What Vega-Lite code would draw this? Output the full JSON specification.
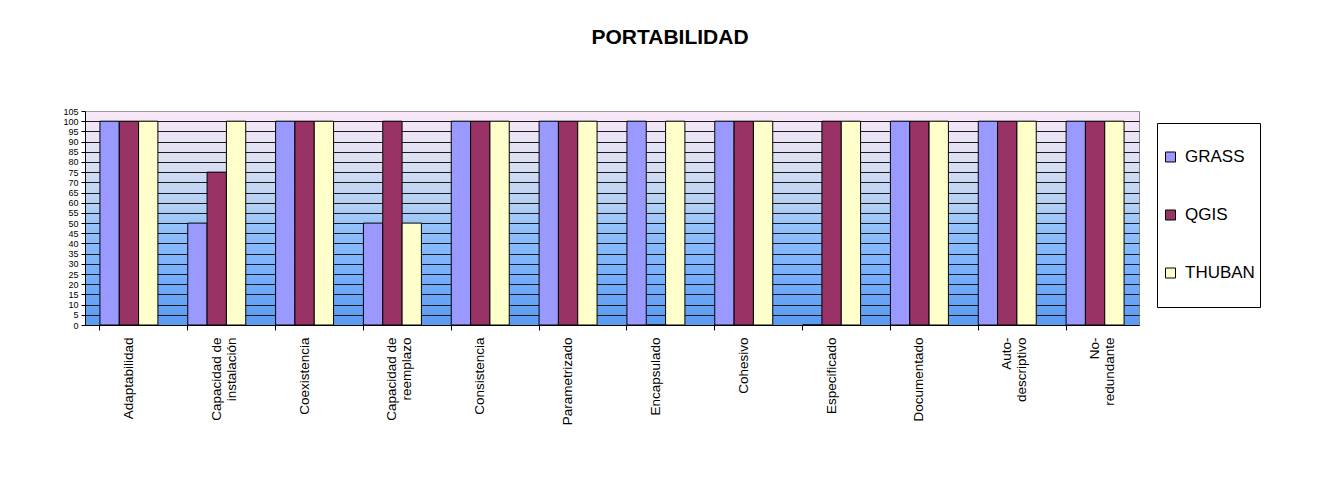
{
  "$schema": "https://vega.github.io/schema/vega-lite/v6.json",
  "width": 1054,
  "height": 214,
  "autosize": {"type": "none"},
  "padding": {"left": 85, "top": 111, "right": 200, "bottom": 159},
  "background": "white",
  "title": {
    "text": "PORTABILIDAD",
    "font": "Liberation Sans",
    "fontSize": 21,
    "fontWeight": "bold",
    "color": "#000000",
    "anchor": "middle",
    "frame": "group",
    "dx": 58,
    "offset": 59
  },
  "data": {
    "values": [
      {"cat": "Adaptabilidad", "series": "GRASS", "v": 100},
      {"cat": "Adaptabilidad", "series": "QGIS", "v": 100},
      {"cat": "Adaptabilidad", "series": "THUBAN", "v": 100},
      {"cat": "Capacidad de|instalación", "series": "GRASS", "v": 50},
      {"cat": "Capacidad de|instalación", "series": "QGIS", "v": 75},
      {"cat": "Capacidad de|instalación", "series": "THUBAN", "v": 100},
      {"cat": "Coexistencia", "series": "GRASS", "v": 100},
      {"cat": "Coexistencia", "series": "QGIS", "v": 100},
      {"cat": "Coexistencia", "series": "THUBAN", "v": 100},
      {"cat": "Capacidad de|reemplazo", "series": "GRASS", "v": 50},
      {"cat": "Capacidad de|reemplazo", "series": "QGIS", "v": 100},
      {"cat": "Capacidad de|reemplazo", "series": "THUBAN", "v": 50},
      {"cat": "Consistencia", "series": "GRASS", "v": 100},
      {"cat": "Consistencia", "series": "QGIS", "v": 100},
      {"cat": "Consistencia", "series": "THUBAN", "v": 100},
      {"cat": "Parametrizado", "series": "GRASS", "v": 100},
      {"cat": "Parametrizado", "series": "QGIS", "v": 100},
      {"cat": "Parametrizado", "series": "THUBAN", "v": 100},
      {"cat": "Encapsulado", "series": "GRASS", "v": 100},
      {"cat": "Encapsulado", "series": "QGIS", "v": 0},
      {"cat": "Encapsulado", "series": "THUBAN", "v": 100},
      {"cat": "Cohesivo", "series": "GRASS", "v": 100},
      {"cat": "Cohesivo", "series": "QGIS", "v": 100},
      {"cat": "Cohesivo", "series": "THUBAN", "v": 100},
      {"cat": "Especificado", "series": "GRASS", "v": 0},
      {"cat": "Especificado", "series": "QGIS", "v": 100},
      {"cat": "Especificado", "series": "THUBAN", "v": 100},
      {"cat": "Documentado", "series": "GRASS", "v": 100},
      {"cat": "Documentado", "series": "QGIS", "v": 100},
      {"cat": "Documentado", "series": "THUBAN", "v": 100},
      {"cat": "Auto-|descriptivo", "series": "GRASS", "v": 100},
      {"cat": "Auto-|descriptivo", "series": "QGIS", "v": 100},
      {"cat": "Auto-|descriptivo", "series": "THUBAN", "v": 100},
      {"cat": "No-|redundante", "series": "GRASS", "v": 100},
      {"cat": "No-|redundante", "series": "QGIS", "v": 100},
      {"cat": "No-|redundante", "series": "THUBAN", "v": 100}
    ]
  },
  "mark": {"type": "bar", "stroke": "#000000", "strokeWidth": 1},
  "encoding": {
    "x": {
      "field": "cat",
      "type": "nominal",
      "sort": null,
      "title": null,
      "scale": {"paddingInner": 0.34, "paddingOuter": 0.17},
      "axis": {
        "bandPosition": 0,
        "labelAngle": -90,
        "labelAlign": "right",
        "labelBaseline": "middle",
        "labelExpr": "split(datum.label, '|')",
        "labelFont": "Liberation Sans",
        "labelFontSize": 13.5,
        "labelLineHeight": 15,
        "labelColor": "#000000",
        "labelPadding": 7,
        "labelLimit": 0,
        "tickSize": 5,
        "tickColor": "#000000",
        "domainColor": "#000000",
        "grid": false
      }
    },
    "xOffset": {
      "field": "series",
      "type": "nominal",
      "sort": ["GRASS", "QGIS", "THUBAN"],
      "scale": {"paddingInner": 0, "paddingOuter": 0}
    },
    "y": {
      "field": "v",
      "type": "quantitative",
      "title": null,
      "scale": {"domain": [0, 105], "nice": false},
      "axis": {
        "values": [0, 5, 10, 15, 20, 25, 30, 35, 40, 45, 50, 55, 60, 65, 70, 75, 80, 85, 90, 95, 100, 105],
        "labelFont": "Liberation Sans",
        "labelFontSize": 9,
        "labelColor": "#000000",
        "labelPadding": 3,
        "tickSize": 4,
        "tickColor": "#000000",
        "domainColor": "#000000",
        "grid": true,
        "gridColor": {"condition": {"test": "datum.value == 105", "value": "#999999"}, "value": "#1a1a1a"},
        "gridOpacity": 1
      }
    },
    "color": {
      "field": "series",
      "type": "nominal",
      "scale": {"domain": ["GRASS", "QGIS", "THUBAN"], "range": ["#9999FF", "#993366", "#FFFFCC"]},
      "legend": {
        "title": null,
        "orient": "none",
        "legendX": 1072,
        "legendY": 12,
        "strokeColor": "#000000",
        "fillColor": "#FFFFFF",
        "padding": 5,
        "clipHeight": 58,
        "rowPadding": 0,
        "symbolType": "square",
        "symbolSize": 100,
        "symbolStrokeColor": "#000000",
        "symbolStrokeWidth": 1,
        "symbolOpacity": 1,
        "labelFont": "Liberation Sans",
        "labelFontSize": 17,
        "labelColor": "#000000",
        "labelOffset": 6
      }
    }
  },
  "config": {
    "view": {
      "stroke": "#888888",
      "fill": {
        "gradient": "linear",
        "x1": 0, "y1": 0, "x2": 0, "y2": 1,
        "stops": [
          {"offset": 0, "color": "#FAE8F8"},
          {"offset": 0.25, "color": "#D8DEF2"},
          {"offset": 0.45, "color": "#B0CEF4"},
          {"offset": 0.55, "color": "#90C0FC"},
          {"offset": 0.75, "color": "#78B0FF"},
          {"offset": 1, "color": "#5A9AF0"}
        ]
      }
    }
  }
}
